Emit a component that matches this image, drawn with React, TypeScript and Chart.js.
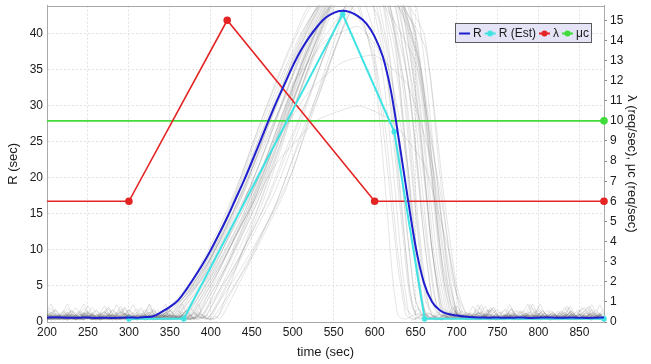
import React, { useEffect, useRef } from "react";
import { Chart, registerables } from "chart.js";

Chart.register(...registerables);

// ---------------- data ----------------
const X_MIN = 200;
const X_MAX = 880;
const X_STEP = 50;
const R_AXIS_MAX = 43.9;
const RATE_AXIS_MAX = 15.73;

// mean response time R (sec), sampled every 10 s from 200 to 880
const R_TIME = [
  200, 210, 220, 230, 240, 250, 260, 270, 280, 290, 300, 310, 320, 330, 340, 350, 360, 370, 380, 390,
  400, 410, 420, 430, 440, 450, 460, 470, 480, 490, 500, 510, 520, 530, 540, 550, 560, 570, 580, 590,
  600, 610, 620, 630, 640, 650, 660, 670, 680, 690, 700, 710, 720, 730, 740, 750, 760, 770, 780, 790,
  800, 810, 820, 830, 840, 850, 860, 870, 880,
];
const R_MEAN = [
  0.6, 0.65, 0.62, 0.58, 0.6, 0.63, 0.57, 0.6, 0.55, 0.6, 0.62, 0.6, 0.68, 0.8, 1.4, 2.1, 3.0, 4.5, 6.2, 8.0,
  10.0, 12.2, 14.5, 17.0, 19.5, 22.2, 25.0, 27.8, 30.5, 33.0, 35.5, 37.7, 39.5, 41.0, 42.2, 42.9, 43.2, 43.0, 42.4, 41.4,
  39.6, 36.8, 32.0, 25.0, 17.5, 10.5, 5.5, 2.8, 1.6, 1.1, 0.9, 0.75, 0.65, 0.62, 0.6, 0.63, 0.58, 0.6, 0.62, 0.57,
  0.6, 0.63, 0.6, 0.58, 0.62, 0.6, 0.57, 0.6, 0.62,
];

// estimated R
const R_EST_TIME = [300, 367, 561, 624, 661, 880];
const R_EST = [0.45, 0.45, 42.7, 26.4, 0.45, 0.45];

// arrival rate lambda (req/sec)
const LAMBDA_TIME = [200, 300, 420, 600, 880];
const LAMBDA = [6, 6, 15, 6, 6];

// service capacity mu_c (req/sec)
const MU_TIME = [200, 880];
const MU = [10, 10];

const SERIES_LABELS = ["R", "R (Est)", "λ", "μc"];
const X_TITLE = "time (sec)";
const Y_TITLE = "R (sec)";
const Y2_TITLE = "λ (req/sec), μc (req/sec)";

// individual runs: busy part of each run, [time, R]
const GRAY_RUNS: number[][][] = [
  [[335, 0.9], [370, 4], [400, 9], [425, 16], [450, 23], [480, 31], [510, 39], [540, 46], [580, 50], [610, 44], [625, 30], [638, 14], [650, 3], [658, 1]],
  [[345, 1], [380, 5], [410, 11], [435, 17], [460, 24], [490, 33], [520, 41], [550, 47], [600, 48], [625, 38], [640, 22], [652, 6], [662, 1]],
  [[350, 0.8], [390, 6], [420, 12], [445, 18], [470, 25], [500, 34], [530, 42], [560, 48], [610, 47], [635, 34], [650, 16], [662, 4], [670, 1]],
  [[360, 1], [395, 6], [428, 13], [455, 19], [480, 26], [508, 35], [535, 42], [565, 48], [620, 46], [645, 30], [660, 12], [672, 2], [680, 1]],
  [[370, 0.9], [405, 7], [438, 14], [465, 21], [490, 28], [518, 36], [545, 43], [575, 49], [630, 46], [655, 28], [670, 10], [682, 2], [690, 1]],
  [[375, 1.1], [412, 8], [445, 15], [472, 22], [498, 30], [525, 38], [552, 45], [585, 50], [640, 45], [665, 26], [680, 9], [692, 1]],
  [[385, 1], [420, 8], [452, 16], [480, 24], [505, 32], [532, 40], [558, 47], [595, 51], [650, 44], [672, 24], [688, 8], [700, 1]],
  [[395, 0.9], [430, 9], [462, 17], [490, 26], [515, 34], [540, 42], [565, 48], [605, 50], [660, 40], [680, 20], [695, 6], [708, 1]],
  [[340, 0.8], [375, 5], [405, 11], [430, 18], [455, 26], [485, 35], [515, 43], [545, 48], [575, 45], [600, 36], [615, 22], [628, 8], [638, 1]],
  [[355, 1], [392, 7], [422, 14], [448, 21], [475, 29], [505, 38], [535, 45], [570, 49], [605, 42], [622, 28], [636, 12], [646, 2], [652, 1]],
  [[365, 0.9], [400, 7], [432, 14], [458, 20], [485, 28], [512, 36], [540, 43], [570, 46], [615, 44], [640, 30], [655, 12], [666, 2], [674, 1]],
  [[380, 1], [418, 9], [448, 16], [476, 24], [502, 32], [528, 40], [555, 46], [590, 49], [635, 44], [658, 27], [672, 10], [684, 2], [692, 1]],
  [[390, 1], [426, 9], [458, 17], [486, 26], [512, 34], [538, 42], [562, 47], [600, 48], [648, 41], [668, 22], [684, 7], [696, 1]],
  [[348, 0.9], [385, 6], [415, 12], [440, 18], [466, 26], [495, 34], [525, 42], [555, 47], [592, 46], [615, 34], [630, 17], [642, 4], [650, 1]],
  [[358, 1], [394, 7], [425, 14], [452, 21], [478, 28], [505, 36], [532, 43], [560, 48], [598, 47], [620, 35], [636, 17], [648, 4], [656, 1]],
  [[368, 0.8], [404, 7], [436, 14], [462, 21], [488, 29], [515, 37], [542, 44], [572, 49], [612, 47], [634, 33], [650, 15], [662, 3], [670, 1]],
  [[378, 1], [414, 8], [446, 16], [474, 24], [500, 32], [526, 40], [552, 46], [582, 49], [625, 46], [648, 30], [664, 12], [676, 2], [684, 1]],
  [[400, 1], [436, 9], [468, 18], [494, 27], [518, 35], [542, 42], [566, 47], [610, 48], [662, 38], [684, 18], [700, 5], [712, 1]],
  [[340, 1], [372, 4], [402, 10], [428, 17], [454, 25], [482, 33], [510, 40], [540, 45], [570, 44], [598, 38], [614, 26], [628, 10], [638, 2], [645, 1]],
  [[352, 0.9], [388, 6], [418, 13], [446, 20], [472, 28], [500, 36], [528, 43], [556, 48], [590, 48], [614, 38], [630, 20], [642, 5], [650, 1]],
  [[362, 1], [398, 7], [430, 14], [456, 21], [482, 29], [510, 37], [538, 44], [568, 48], [606, 46], [630, 32], [645, 14], [656, 3], [664, 1]],
  [[372, 0.9], [408, 8], [440, 15], [468, 23], [494, 31], [520, 39], [546, 45], [578, 49], [618, 47], [642, 32], [658, 14], [670, 3], [678, 1]],
  [[382, 1], [418, 8], [450, 16], [478, 24], [504, 32], [530, 40], [556, 46], [588, 49], [630, 45], [654, 28], [670, 10], [682, 2], [690, 1]],
  [[345, 0.8], [382, 6], [412, 12], [438, 19], [464, 27], [492, 35], [520, 42], [550, 46], [585, 45], [608, 36], [622, 22], [634, 7], [642, 1]],
  [[385, 1], [430, 12], [480, 22], [530, 28], [580, 30], [620, 28], [660, 22], [690, 10], [705, 1]],
  [[410, 1], [455, 15], [495, 28], [530, 38], [570, 44], [610, 44], [650, 36], [680, 18], [700, 4], [712, 1]],
  [[360, 1], [400, 8], [440, 17], [480, 25], [520, 32], [560, 36], [600, 37], [640, 33], [670, 22], [690, 8], [700, 1]],
  [[350, 0.8], [395, 8], [430, 16], [465, 25], [500, 33], [540, 39], [580, 41], [615, 36], [640, 22], [655, 6], [662, 1]],
  [[392, 1], [428, 10], [460, 19], [488, 28], [514, 37], [540, 44], [570, 48], [615, 47], [655, 36], [678, 18], [692, 5], [702, 1]],
  [[342, 1], [378, 6], [410, 13], [436, 20], [462, 28], [490, 36], [518, 43], [548, 47], [578, 45], [600, 35], [612, 20], [622, 6], [628, 1]],
  [[366, 0.9], [402, 7], [434, 15], [460, 22], [486, 30], [512, 38], [538, 45], [566, 49], [600, 50], [624, 40], [640, 22], [654, 6], [662, 1]],
  [[376, 1], [412, 8], [444, 15], [472, 23], [498, 31], [524, 39], [550, 45], [580, 48], [640, 44], [664, 26], [680, 10], [694, 2], [702, 1]],
  [[400, 1], [440, 8], [475, 15], [500, 21], [525, 30], [548, 38], [570, 45], [610, 49], [650, 40], [670, 22], [684, 6], [694, 1]],
  [[410, 1], [448, 9], [482, 17], [510, 26], [535, 33], [558, 40], [580, 46], [620, 48], [655, 36], [675, 18], [690, 5], [700, 1]],
  [[405, 0.9], [445, 8], [478, 16], [505, 24], [530, 31], [552, 38], [575, 44], [610, 47], [645, 40], [665, 24], [680, 8], [690, 1]],
  [[395, 1], [435, 9], [470, 17], [498, 25], [522, 32], [545, 39], [570, 45], [600, 47], [640, 42], [660, 26], [676, 9], [688, 1]],
  [[415, 1], [455, 10], [490, 18], [515, 26], [540, 34], [562, 41], [590, 47], [630, 46], [660, 32], [678, 14], [692, 3], [700, 1]],
  [[390, 1], [430, 8], [465, 16], [492, 24], [518, 31], [542, 38], [565, 44], [595, 47], [632, 44], [652, 30], [668, 12], [680, 2], [686, 1]],
  [[385, 0.8], [425, 9], [462, 18], [492, 27], [520, 35], [548, 43], [575, 48], [612, 46], [640, 34], [658, 16], [672, 4], [680, 1]],
  [[402, 1], [442, 10], [478, 18], [508, 27], [535, 36], [560, 43], [590, 48], [625, 45], [650, 30], [668, 12], [680, 2], [688, 1]],
];

// idle-period fluctuation of the runs, one value per 5 s
const NOISE_STEP = 5;
const NOISE_A = [0.5, 0.8, 0.6, 1.0, 0.7, 0.3, 0.9, 1.3, 0.7, 0.4, 0.9, 0.6, 0.3, 0.5, 1.1, 1.7, 0.9, 0.5, 0.4, 0.7, 1.0, 0.6, 0.3, 0.5, 0.8, 1.4, 0.9, 0.6, 0.4, 0.8, 0.5, 0.3, 0.7, 1.2, 2.2, 1.1, 0.6, 0.4, 0.7, 0.5, 0.4, 0.9, 0.7, 0.5, 0.3, 0.6, 1.0, 0.8, 0.5, 0.9, 1.6, 1.0, 0.5, 0.4, 0.7, 0.5, 0.8, 1.1, 0.6, 0.4, 0.5, 0.8, 0.5, 0.9, 1.7, 1.0, 0.6, 0.4, 0.7, 0.9, 0.5, 0.3, 0.6, 1.0, 0.7, 0.5, 0.8, 1.3, 0.7, 0.4];
const NOISE_B = [0.6, 0.3, 0.5, 0.9, 1.2, 0.8, 0.5, 0.4, 0.7, 1.0, 1.9, 1.1, 0.6, 0.5, 0.3, 0.5, 0.9, 0.6, 1.0, 0.7, 0.4, 0.5, 0.8, 1.3, 0.9, 0.5, 0.3, 0.5, 0.7, 1.0, 0.8, 0.5, 0.6, 0.9, 0.5, 0.4, 0.7, 1.4, 2.5, 1.2, 0.7, 0.5, 0.6, 0.9, 0.5, 0.3, 0.5, 0.8, 1.1, 0.7, 0.5, 0.4, 0.6, 1.0, 1.3, 0.8, 0.5, 0.3, 0.5, 0.9, 0.7, 0.5, 1.0, 1.6, 0.9, 0.5, 0.4, 0.7, 0.9, 0.6, 0.4, 0.5, 1.0, 0.7, 0.5, 0.6, 1.2, 0.8, 0.5, 0.4];
const NOISE_C = [0.9, 0.5, 0.3, 0.6, 1.0, 0.5, 0.7, 1.2, 0.8, 0.4, 0.5, 0.9, 1.4, 2.0, 1.0, 0.6, 0.5, 0.7, 0.4, 0.5, 1.0, 0.7, 0.5, 0.8, 1.2, 0.7, 0.4, 0.3, 0.6, 0.9, 0.5, 1.0, 1.5, 0.9, 0.5, 0.4, 0.7, 1.0, 0.6, 0.5, 0.3, 0.5, 0.8, 1.2, 1.8, 1.0, 0.5, 0.7, 0.5, 0.4, 0.6, 0.9, 0.7, 0.5, 1.0, 0.8, 0.5, 0.3, 0.5, 1.0, 1.4, 0.8, 0.6, 0.4, 0.5, 0.7, 1.2, 2.4, 1.2, 0.6, 0.5, 0.8, 0.5, 0.4, 0.7, 0.9, 0.5, 0.4, 0.6, 1.0];
const NOISE_D = [0.5, 0.7, 1.1, 0.6, 0.4, 0.5, 0.9, 0.7, 0.3, 0.5, 0.8, 1.2, 0.7, 0.5, 1.0, 1.6, 0.9, 0.5, 0.4, 0.6, 0.8, 0.5, 1.1, 0.7, 0.4, 0.5, 0.9, 1.7, 1.0, 0.6, 0.5, 0.3, 0.6, 1.0, 0.7, 0.5, 0.8, 0.5, 0.4, 0.7, 1.3, 0.8, 0.5, 0.4, 0.6, 1.1, 2.0, 1.2, 0.7, 0.5, 0.5, 0.9, 0.6, 0.4, 0.7, 1.0, 0.5, 0.3, 0.5, 0.8, 0.7, 0.5, 0.9, 1.4, 0.8, 0.5, 0.4, 0.6, 1.0, 0.7, 0.5, 1.1, 0.6, 0.4, 0.5, 0.9, 0.7, 0.5, 0.8, 0.5];
const NOISE_LISTS = [NOISE_A, NOISE_B, NOISE_C, NOISE_D];

// ---------------- helpers ----------------
const FONT_FAMILY = '"Liberation Sans", Arial, Helvetica, sans-serif';
const TEXT_COLOR = "#1a1a1a";
const FRAME_COLOR = "#a9a9a9";
const GRID_COLOR = "#e2e2e2";

const COLORS = {
  r: "#1f1fcf",
  est: "#3fe3e3",
  lambda: "#e52424",
  mu: "#3fdc3a",
  gray: "rgba(105,105,105,0.22)",
};

function zip(xs: number[], ys: number[]) {
  return xs.map((x, i) => ({ x, y: ys[i] }));
}

function buildRun(run: number[][], idx: number) {
  const noise = NOISE_LISTS[idx % NOISE_LISTS.length];
  let k = (idx * 13) % noise.length;
  const pts: { x: number; y: number }[] = [];
  const start = run[0][0];
  const end = run[run.length - 1][0];
  for (let x = X_MIN; x < start; x += NOISE_STEP) pts.push({ x, y: noise[k++ % noise.length] });
  run.forEach(([x, y]) => pts.push({ x, y }));
  for (let x = end + NOISE_STEP; x <= X_MAX; x += NOISE_STEP) pts.push({ x, y: noise[k++ % noise.length] });
  return pts;
}

function drawMarker(ctx: CanvasRenderingContext2D, kind: string, x: number, y: number, color: string) {
  ctx.save();
  ctx.fillStyle = color;
  ctx.strokeStyle = color;
  if (kind === "circle") {
    ctx.beginPath();
    ctx.arc(x, y, 3, 0, Math.PI * 2);
    ctx.fill();
  } else if (kind === "star") {
    ctx.lineWidth = 1.5;
    ctx.beginPath();
    const r = 3.2;
    ctx.moveTo(x - r, y); ctx.lineTo(x + r, y);
    ctx.moveTo(x, y - r); ctx.lineTo(x, y + r);
    const d = r * 0.7;
    ctx.moveTo(x - d, y - d); ctx.lineTo(x + d, y + d);
    ctx.moveTo(x - d, y + d); ctx.lineTo(x + d, y - d);
    ctx.stroke();
  }
  ctx.restore();
}

const framePlugin = {
  id: "topFrame",
  afterDatasetsDraw(chart: any) {
    const { ctx, chartArea } = chart;
    ctx.save();
    ctx.strokeStyle = FRAME_COLOR;
    ctx.lineWidth = 1;
    ctx.beginPath();
    ctx.moveTo(chartArea.left, Math.round(chartArea.top) + 0.5);
    ctx.lineTo(chartArea.right, Math.round(chartArea.top) + 0.5);
    ctx.stroke();
    ctx.restore();
  },
};

const legendPlugin = {
  id: "boxLegend",
  afterDraw(chart: any) {
    const { ctx, chartArea } = chart;
    const items = chart.data.datasets.filter((d: any) => d.inLegend);
    items.sort((a: any, b: any) => a.legendIndex - b.legendIndex);
    ctx.save();
    ctx.font = `12px ${FONT_FAMILY}`;
    const lineLen = 11, textGap = 3, itemGap = 3, padL = 4, padR = 3, h = 20;
    let total = padL + padR + itemGap * (items.length - 1);
    const widths = items.map((d: any) => ctx.measureText(d.label).width);
    widths.forEach((w: number) => (total += lineLen + textGap + w));
    const right = chartArea.right - 12;
    const left = Math.round(right - total);
    const top = Math.round(chartArea.top + 17);
    ctx.fillStyle = "#e4e4f6";
    ctx.fillRect(left, top, right - left, h);
    ctx.strokeStyle = "#5a5a5a";
    ctx.lineWidth = 1;
    ctx.strokeRect(left + 0.5, top + 0.5, right - left - 1, h - 1);
    const cy = top + h / 2 + 0.5;
    let x = left + padL;
    items.forEach((d: any, i: number) => {
      ctx.strokeStyle = d.borderColor;
      ctx.lineWidth = 2;
      ctx.beginPath();
      ctx.moveTo(x, cy);
      ctx.lineTo(x + lineLen, cy);
      ctx.stroke();
      if (d.legendMarker) drawMarker(ctx, d.legendMarker, x + lineLen / 2, cy, d.borderColor);
      x += lineLen + textGap;
      ctx.fillStyle = TEXT_COLOR;
      ctx.textBaseline = "middle";
      ctx.textAlign = "left";
      ctx.fillText(d.label, x, cy);
      x += widths[i] + itemGap;
    });
    ctx.restore();
  },
};

export default function App() {
  const canvasRef = useRef<HTMLCanvasElement | null>(null);

  useEffect(() => {
    document.body.style.margin = "0";
    const canvas = canvasRef.current;
    if (!canvas) return;

    const grayDatasets = GRAY_RUNS.map((run, i) => ({
      label: "",
      data: buildRun(run, i),
      borderColor: COLORS.gray,
      borderWidth: 0.8,
      pointRadius: 0,
      tension: 0.15,
      yAxisID: "y",
      order: 10,
    }));

    const tickFont = { family: FONT_FAMILY, size: 12 };
    const titleFont = { family: FONT_FAMILY, size: 13 };

    const chart = new Chart(canvas, {
      type: "line",
      data: {
        datasets: [
          ...grayDatasets,
          {
            label: SERIES_LABELS[3],
            data: zip(MU_TIME, MU),
            borderColor: COLORS.mu,
            backgroundColor: COLORS.mu,
            borderWidth: 1.6,
            pointRadius: [0, 3],
            pointStyle: "circle",
            yAxisID: "y2",
            order: 4,
            clip: 6,
            inLegend: true,
            legendIndex: 3,
            legendMarker: "circle",
          },
          {
            label: SERIES_LABELS[2],
            data: zip(LAMBDA_TIME, LAMBDA),
            borderColor: COLORS.lambda,
            backgroundColor: COLORS.lambda,
            borderWidth: 1.6,
            pointRadius: [0, 3, 3, 3, 3],
            pointStyle: "circle",
            yAxisID: "y2",
            order: 3,
            clip: 6,
            inLegend: true,
            legendIndex: 2,
            legendMarker: "circle",
          },
          {
            label: SERIES_LABELS[1],
            data: zip(R_EST_TIME, R_EST),
            borderColor: COLORS.est,
            backgroundColor: COLORS.est,
            borderWidth: 2,
            pointRadius: 3,
            pointStyle: "star",
            pointBorderWidth: 1.5,
            yAxisID: "y",
            order: 2,
            clip: 6,
            inLegend: true,
            legendIndex: 1,
            legendMarker: "star",
          },
          {
            label: SERIES_LABELS[0],
            data: zip(R_TIME, R_MEAN),
            borderColor: COLORS.r,
            borderWidth: 2,
            pointRadius: 0,
            tension: 0.35,
            cubicInterpolationMode: "monotone",
            yAxisID: "y",
            order: 1,
            inLegend: true,
            legendIndex: 0,
          },
        ] as any,
      },
      options: {
        animation: false,
        responsive: false,
        maintainAspectRatio: false,
        layout: { padding: { top: 3, left: 0, right: 0, bottom: 0 } },
        plugins: { legend: { display: false }, tooltip: { enabled: false } },
        scales: {
          x: {
            type: "linear",
            min: X_MIN,
            max: X_MAX,
            ticks: { stepSize: X_STEP, includeBounds: false, padding: 3, color: TEXT_COLOR, font: tickFont, maxRotation: 0 },
            grid: { color: GRID_COLOR, drawTicks: false },
            border: { color: FRAME_COLOR, dash: [2, 2] },
            title: { display: true, text: X_TITLE, color: TEXT_COLOR, font: titleFont, padding: { top: 0, bottom: 4 } },
            afterFit: (s: any) => {
              s.height = 42;
              s.paddingLeft = 0;
              s.paddingRight = 0;
            },
          },
          y: {
            type: "linear",
            position: "left",
            min: 0,
            max: R_AXIS_MAX,
            ticks: { stepSize: 5, includeBounds: false, padding: 4, color: TEXT_COLOR, font: tickFont },
            grid: { color: GRID_COLOR, drawTicks: false },
            border: { color: FRAME_COLOR, dash: [2, 2] },
            title: { display: true, text: Y_TITLE, color: TEXT_COLOR, font: titleFont, padding: { top: 6, bottom: 0 } },
            afterFit: (s: any) => {
              s.width = 47;
              s.paddingTop = 0;
              s.paddingBottom = 0;
            },
          },
          y2: {
            type: "linear",
            position: "right",
            min: 0,
            max: RATE_AXIS_MAX,
            ticks: { stepSize: 1, includeBounds: false, padding: 3, color: TEXT_COLOR, font: tickFont },
            grid: { drawOnChartArea: false, drawTicks: true, tickLength: 3, color: "#8a8a8a" },
            border: { color: FRAME_COLOR },
            title: { display: true, text: Y2_TITLE, color: TEXT_COLOR, font: titleFont, padding: { top: 12, bottom: 0 } },
            afterFit: (s: any) => {
              s.width = 47;
              s.paddingTop = 0;
              s.paddingBottom = 0;
            },
          },
        },
      } as any,
      plugins: [framePlugin, legendPlugin],
    });

    return () => chart.destroy();
  }, []);

  return (
    <div style={{ width: 651, height: 364, position: "relative", background: "#fff" }}>
      <canvas ref={canvasRef} width={651} height={364} style={{ display: "block", width: 651, height: 364 }} />
    </div>
  );
}
